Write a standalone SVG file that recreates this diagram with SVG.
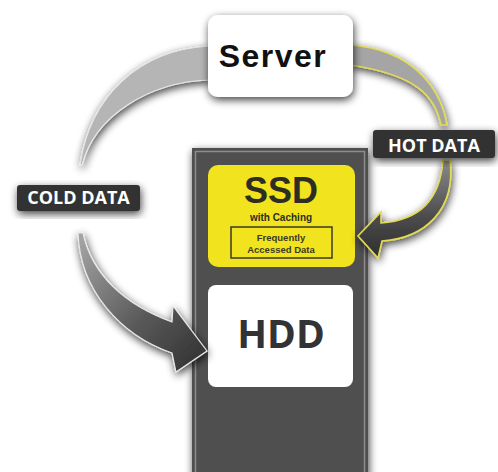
<svg xmlns="http://www.w3.org/2000/svg" width="498" height="472" viewBox="0 0 498 472">
<defs>
<filter id="sh" x="-30%" y="-30%" width="160%" height="160%">
<feGaussianBlur in="SourceAlpha" stdDeviation="4"/>
<feOffset dx="1" dy="3" result="b"/>
<feComponentTransfer><feFuncA type="linear" slope="0.75"/></feComponentTransfer>
<feMerge><feMergeNode/><feMergeNode in="SourceGraphic"/></feMerge>
</filter>
<linearGradient id="gl" x1="0" y1="0" x2="1" y2="1">
<stop offset="0" stop-color="#a8a8a8"/>
<stop offset="0.55" stop-color="#5a5a5a"/>
<stop offset="1" stop-color="#2e2e2e"/>
</linearGradient>
<linearGradient id="gr" x1="0" y1="0" x2="0" y2="1">
<stop offset="0" stop-color="#8a8a8a"/>
<stop offset="0.6" stop-color="#4a4a4a"/>
<stop offset="1" stop-color="#2e2e2e"/>
</linearGradient>
<style>
.lbl{fill:#333333}
.lt{font-family:"Open Sans","Liberation Sans",sans-serif;font-weight:bold;fill:#ffffff;font-size:18px;text-anchor:middle}
.dk{font-family:"Open Sans","Liberation Sans",sans-serif;font-weight:bold;text-anchor:middle}
.dl{font-family:"Liberation Sans",Arial,sans-serif;font-weight:bold;text-anchor:middle}
.cold{stroke:#e8e8e8;stroke-width:1.2}
.hot{stroke:#e2da55;stroke-width:1.6}
</style>
</defs>
<rect width="498" height="472" fill="#ffffff"/>

<g id="device">
<rect x="192" y="148" width="176" height="330" fill="#4f4f4f" filter="url(#sh)"/>
<rect x="195.5" y="151.5" width="169" height="330" fill="none" stroke="#8c8c8c" stroke-width="1.5"/>
</g>

<g id="ssd">
<rect x="208" y="165" width="147" height="102" rx="10" fill="#f1e31d"/>
<text class="dl" x="281" y="203" font-size="36" fill="#2d2d22">SSD</text>
<text class="dl" x="281" y="221" font-size="10" fill="#2d2d22">with Caching</text>
<rect x="231" y="227" width="101" height="31" fill="none" stroke="#3a3a28" stroke-width="1.5"/>
<text class="dl" x="281" y="240.5" font-size="9.5" fill="#3a3a28">Frequently</text>
<text class="dl" x="281" y="253" font-size="9.5" fill="#3a3a28">Accessed Data</text>
</g>

<g id="hdd">
<rect x="208" y="285" width="145" height="102" rx="8" fill="#ffffff"/>
<text class="dk" x="281" y="348" font-size="39" fill="#333333">HDD</text>
</g>

<g id="connectors">
<path class="cold" d="M 209 46 C 140 50, 90 95, 80 165 L 82 165 C 95 115, 150 82, 209 80 Z" fill="#b5b5b5" filter="url(#sh)"/>
<path class="cold" d="M 78 233 C 80 290, 120 335, 172 353 L 176 372 L 207 351 L 173 306 L 172 322 C 125 305, 92 275, 83 233 Z" fill="url(#gl)" filter="url(#sh)"/>
<path class="hot" d="M 351 45 C 410 50, 440 85, 447 125 L 441 125 C 435 95, 415 75, 351 65 Z" fill="#a5a5a5" filter="url(#sh)"/>
<path class="hot" d="M 450 160 C 456 210, 425 238, 382 241 L 378 258 L 358 236 L 381 212 L 381 223 C 420 220, 440 200, 443 160 Z" fill="url(#gr)" filter="url(#sh)"/>
</g>

<g id="server">
<rect x="208" y="15" width="145" height="82" rx="10" fill="#ffffff" filter="url(#sh)"/>
<text x="273" y="67" font-family="Liberation Sans, Arial, sans-serif" font-weight="bold" font-size="32" letter-spacing="1.5" text-anchor="middle" fill="#111111">Server</text>
</g>

<g id="hot-label">
<rect class="lbl" x="373" y="130" width="122" height="28" rx="3" filter="url(#sh)"/>
<text class="lt" x="434" y="152">HOT DATA</text>
</g>

<g id="cold-label">
<rect class="lbl" x="17" y="185" width="123" height="26" rx="3" filter="url(#sh)"/>
<text class="lt" x="78.5" y="204">COLD DATA</text>
</g>
</svg>
